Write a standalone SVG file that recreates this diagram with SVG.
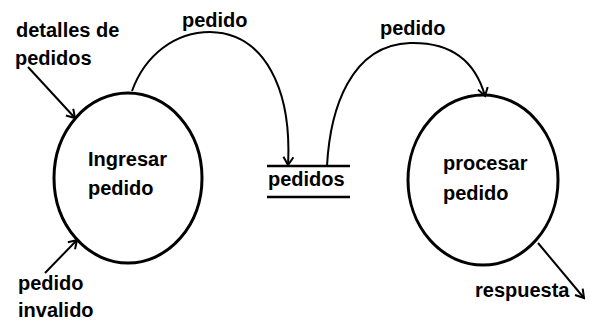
<svg xmlns="http://www.w3.org/2000/svg" width="590" height="323" viewBox="0 0 590 323">
<style>
.t{font-family:"Liberation Sans",Arial,sans-serif;font-weight:bold;font-size:20px;fill:#000}
.proc{fill:none;stroke:#000;stroke-width:3}
.flow{fill:none;stroke:#000;stroke-width:2}
.store{stroke:#000;stroke-width:2.5}
</style>
<defs>
<marker id="arr" markerWidth="12" markerHeight="12" refX="10" refY="6" orient="auto" markerUnits="userSpaceOnUse">
<path d="M2,1 L10,6 L2,11" fill="none" stroke="#000" stroke-width="2"/>
</marker>
</defs>
<rect width="590" height="323" fill="#fff"/>
<g id="connectors">
<path class="flow" d="M28,67 L75,118" marker-end="url(#arr)"/>
<path class="flow" d="M45,273 L77,240" marker-end="url(#arr)"/>
<path class="flow" d="M132,91 C145,55 175,32 210,32 C265,33 292,90 288,165" marker-end="url(#arr)"/>
<path class="flow" d="M327,166 C330,110 350,45 410,43 C450,42 475,60 485,96" marker-end="url(#arr)"/>
<path class="flow" d="M538,243 L584,298" marker-end="url(#arr)"/>
<text class="t" x="182" y="27">pedido</text>
<text class="t" x="380" y="35">pedido</text>
<text class="t" x="475" y="297">respuesta</text>
</g>
<g id="ext-detalles">
<text class="t" x="16" y="37">detalles de</text>
<text class="t" x="15" y="65">pedidos</text>
</g>
<g id="ext-invalido">
<text class="t" x="18" y="290">pedido</text>
<text class="t" x="18" y="317">invalido</text>
</g>
<g id="ingresar">
<ellipse class="proc" cx="128" cy="178" rx="74" ry="85"/>
<text class="t" x="88" y="166">Ingresar</text>
<text class="t" x="88" y="195">pedido</text>
</g>
<g id="procesar">
<ellipse class="proc" cx="483" cy="180" rx="75" ry="85"/>
<text class="t" x="443" y="170">procesar</text>
<text class="t" x="443" y="200">pedido</text>
</g>
<g id="store-pedidos">
<line class="store" x1="267" y1="166" x2="350" y2="166"/>
<line class="store" x1="267" y1="197" x2="350" y2="197"/>
<text class="t" x="268" y="186">pedidos</text>
</g>
</svg>
